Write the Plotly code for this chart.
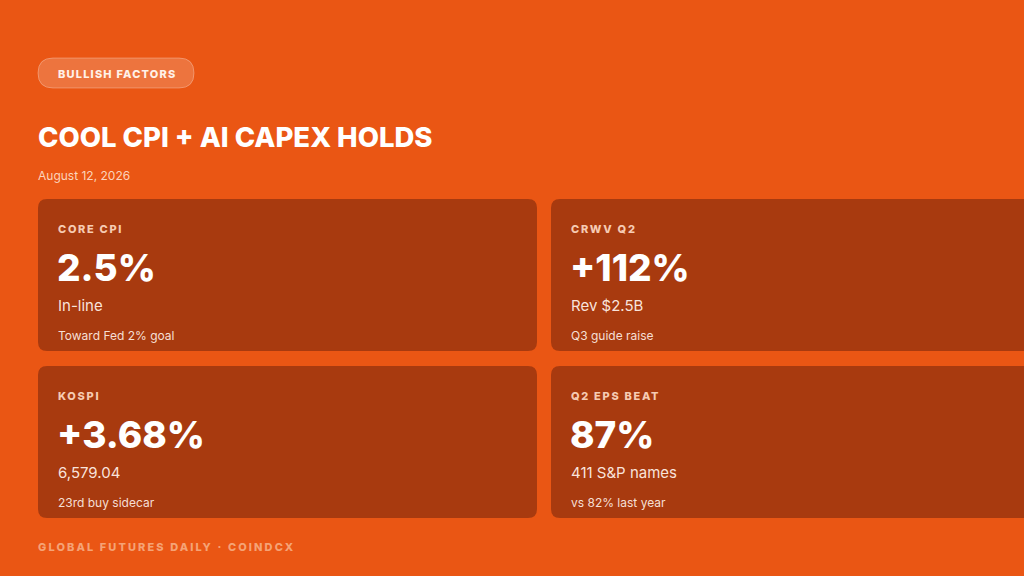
import plotly.graph_objects as go

# ---- data ----
badge_text = "BULLISH FACTORS"
title_text = "COOL CPI + AI CAPEX HOLDS"
date_text = "August 12, 2026"
footer_text = "GLOBAL FUTURES DAILY · COINDCX"

card_labels = ["CORE CPI", "CRWV Q2", "KOSPI", "Q2 EPS BEAT"]
card_values = ["2.5%", "+112%", "+3.68%", "87%"]
card_subs = ["In-line", "Rev $2.5B", "6,579.04", "411 S&P names"]
card_notes = ["Toward Fed 2% goal", "Q3 guide raise", "23rd buy sidecar", "vs 82% last year"]

# ---- style / layout constants ----
W, H = 1024, 576
BG = "#EA5614"
CARD = "#A83A0F"
FONT = "Inter"
card_w, card_h = 499, 152
gap_x, gap_y = 14, 15
x0, y0 = 38, 199
radius = 9
pad = 2  # annotation inner padding compensation


def rrect(xa, ya, xb, yb, r):
    return (f"M{xa+r},{ya} L{xb-r},{ya} Q{xb},{ya} {xb},{ya+r} "
            f"L{xb},{yb-r} Q{xb},{yb} {xb-r},{yb} L{xa+r},{yb} "
            f"Q{xa},{yb} {xa},{yb-r} L{xa},{ya+r} Q{xa},{ya} {xa+r},{ya} Z")


fig = go.Figure()
shapes = []
annotations = []

# badge pill
shapes.append(dict(type="path", path=rrect(38, 58, 194, 88, 15), xref="x", yref="y",
                   fillcolor="rgba(255,255,255,0.18)",
                   line=dict(color="rgba(255,255,255,0.28)", width=1), layer="below"))
annotations.append(dict(x=117, y=74, text=badge_text, showarrow=False,
                        xanchor="center", yanchor="middle", align="center",
                        font=dict(family=FONT, size=11, weight=800, color="#FFF1E8")))

# title + date
annotations.append(dict(x=38 - pad, y=137, text=title_text, showarrow=False,
                        xanchor="left", yanchor="middle", align="left",
                        font=dict(family=FONT, size=27.5, weight=800, color="#FFFFFF")))
annotations.append(dict(x=38 - pad, y=175, text=date_text, showarrow=False,
                        xanchor="left", yanchor="middle", align="left",
                        font=dict(family=FONT, size=12, color="rgba(255,235,222,0.85)")))

# cards
for i in range(len(card_labels)):
    col, row = i % 2, i // 2
    cx = x0 + col * (card_w + gap_x)
    cy = y0 + row * (card_h + gap_y)
    shapes.append(dict(type="path", path=rrect(cx, cy, cx + card_w, cy + card_h, radius),
                       xref="x", yref="y", fillcolor=CARD, line=dict(width=0), layer="below"))
    tx = cx + 20 - pad
    annotations.append(dict(x=tx, y=cy + 30, text=card_labels[i], showarrow=False,
                            xanchor="left", yanchor="middle", align="left",
                            font=dict(family=FONT, size=11, weight=800, color="#F6CBB3")))
    annotations.append(dict(x=tx - 1, y=cy + 68, text=card_values[i], showarrow=False,
                            xanchor="left", yanchor="middle", align="left",
                            font=dict(family=FONT, size=37, weight=800, color="#FFFFFF")))
    annotations.append(dict(x=tx, y=cy + 106, text=card_subs[i], showarrow=False,
                            xanchor="left", yanchor="middle", align="left",
                            font=dict(family=FONT, size=15, color="rgba(255,240,232,0.95)")))
    annotations.append(dict(x=tx, y=cy + 136, text=card_notes[i], showarrow=False,
                            xanchor="left", yanchor="middle", align="left",
                            font=dict(family=FONT, size=12, color="rgba(255,240,232,0.92)")))

# footer
annotations.append(dict(x=38 - pad, y=547, text=footer_text, showarrow=False,
                        xanchor="left", yanchor="middle", align="left",
                        font=dict(family=FONT, size=11, weight=800, color="#F5A376")))

fig.update_layout(
    width=W, height=H,
    margin=dict(l=0, r=0, t=0, b=0),
    paper_bgcolor=BG, plot_bgcolor=BG,
    xaxis=dict(range=[0, W], visible=False, fixedrange=True),
    yaxis=dict(range=[H, 0], visible=False, fixedrange=True),
    shapes=shapes, annotations=annotations, showlegend=False,
)

spacing = {badge_text: "1.2px", footer_text: "2.1px"}
for lbl in card_labels:
    spacing[lbl] = "1.7px"
js_map = "{" + ",".join(f'"{k}":"{v}"' for k, v in spacing.items()) + "}"
post = """
document.documentElement.style.margin = '0';
document.body.style.margin = '0';
document.body.style.overflow = 'hidden';
document.body.style.background = '%s';
var sp = %s;
var gd = document.getElementById('{plot_id}');
gd.querySelectorAll('g.annotation text').forEach(function(t){
  if (sp.hasOwnProperty(t.textContent)) { t.style.letterSpacing = sp[t.textContent]; }
});
""" % (BG, js_map)

fig.write_html("out.html", config={"displayModeBar": False, "staticPlot": True}, post_script=post)
